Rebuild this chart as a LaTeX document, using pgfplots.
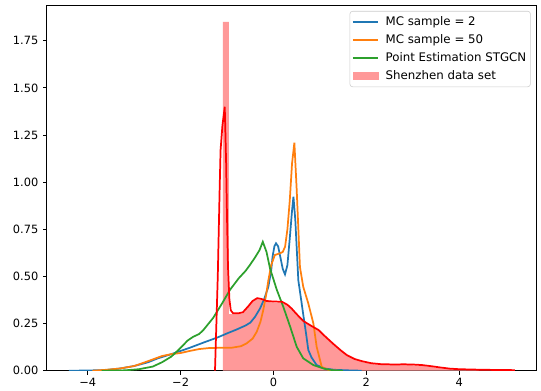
\documentclass[border=0pt]{standalone}
\usepackage{pgfplots}
\pgfplotsset{compat=1.18}
\usepackage{fontspec}
\setmainfont{DejaVu Sans}
\definecolor{mplblue}{HTML}{1F77B4}
\definecolor{mplorange}{HTML}{FF7F0E}
\definecolor{mplgreen}{HTML}{2CA02C}
\definecolor{mplred}{HTML}{FF0000}
\definecolor{mplpink}{HTML}{FF9999}
\begin{document}
\begin{tikzpicture}
\useasboundingbox (-33.8pt,-14.6pt) rectangle (355.7pt,266.9pt);
\begin{axis}[
  at={(0,0)}, anchor=south west,
  scale only axis, width=352.6pt, height=263.3pt,
  xmin=-4.88, xmax=5.67, ymin=0, ymax=1.94,
  axis line style={line width=0.65pt, black},
  tick align=outside, major tick length=2.8pt,
  tick style={line width=0.65pt, black},
  xtick={-4,-2,0,2,4}, xticklabels={−4,−2,0,2,4},
  ytick={0,0.25,0.5,0.75,1,1.25,1.5,1.75},
  yticklabels={0.00,0.25,0.50,0.75,1.00,1.25,1.50,1.75},
  ticklabel style={font=\fontsize{8.2}{9.8}\selectfont},
  xticklabel style={inner sep=0pt, yshift=-2.6pt},
  yticklabel style={inner sep=0pt, xshift=-3.2pt},
  xtick pos=bottom, ytick pos=left,
  legend style={at={(0.9878,0.9837)}, anchor=north east,
    draw=black!20, rounded corners=2pt, fill=white,
    inner xsep=1.5pt, inner ysep=2.3pt,
    font=\fontsize{8.5}{10.2}\selectfont, row sep=1.8pt, column sep=3.5pt,
    nodes={inner sep=1.5pt, text height=6.3pt, text depth=1.8pt}},
  legend cell align=left,
  legend image code/.code={\draw[#1, line width=1.25pt] (0pt,0pt) -- (18pt,0pt);},
]
% histogram (Shenzhen data set)
\addplot[fill=mplpink, draw=none, forget plot] coordinates {
(-1.09,0) (-1.09,1.85) (-0.96,1.85) (-0.96,0.30) (-0.87,0.30) (-0.75,0.30) (-0.66,0.305)
(-0.55,0.335) (-0.45,0.365) (-0.35,0.38) (-0.25,0.375) (-0.15,0.365) (0,0.362) (0.18,0.36)
(0.3,0.345) (0.39,0.325) (0.5,0.295) (0.64,0.26) (0.8,0.236) (0.97,0.212) (1.1,0.181)
(1.29,0.138) (1.45,0.104) (1.58,0.079) (1.75,0.058) (1.9,0.047) (2.1,0.036) (2.3,0.031)
(2.6,0.029) (2.8,0.03) (3.0,0.029) (3.2,0.026) (3.4,0.02) (3.6,0.013) (3.8,0.008)
(4.0,0.005) (4.5,0.002) (5.0,0) } \closedcycle;
\addplot[mplblue, line width=1.25pt] coordinates {
(-4.41,0) (-4.0,0.001) (-3.6,0.004) (-3.3,0.012) (-3.0,0.025) (-2.7,0.045) (-2.5,0.065)
(-2.2,0.088) (-2.0,0.105) (-1.8,0.122) (-1.5,0.15) (-1.2,0.177) (-1.0,0.198) (-0.8,0.218)
(-0.6,0.24) (-0.5,0.255) (-0.4,0.285) (-0.29,0.33) (-0.2,0.38) (-0.11,0.446) (-0.05,0.53)
(-0.02,0.605) (0.02,0.66) (0.054,0.676) (0.1,0.66) (0.15,0.6) (0.2,0.54) (0.248,0.511)
(0.3,0.56) (0.35,0.7) (0.4,0.85) (0.43,0.923) (0.47,0.8) (0.535,0.48) (0.6,0.37)
(0.64,0.30) (0.7,0.2) (0.75,0.11) (0.82,0.07) (0.93,0.03) (1.1,0.012) (1.3,0.005)
(1.6,0.002) (1.9,0.0) };
\addlegendentry{MC sample = 2}
\addplot[mplorange, line width=1.25pt] coordinates {
(-3.9,0) (-3.6,0.005) (-3.3,0.012) (-3.0,0.025) (-2.8,0.042) (-2.6,0.06) (-2.4,0.078)
(-2.2,0.088) (-2.0,0.094) (-1.8,0.105) (-1.6,0.115) (-1.4,0.12) (-1.15,0.122) (-0.9,0.122)
(-0.7,0.13) (-0.58,0.145) (-0.45,0.17) (-0.36,0.207) (-0.28,0.26) (-0.22,0.322) (-0.16,0.4)
(-0.11,0.48) (-0.05,0.56) (0.03,0.614) (0.14,0.623) (0.2,0.63) (0.25,0.658) (0.3,0.75)
(0.35,0.9) (0.4,1.1) (0.45,1.21) (0.5,0.96) (0.57,0.55) (0.64,0.446) (0.75,0.357)
(0.86,0.25) (0.93,0.127) (1.04,0.02) (1.2,0.003) (1.4,0) };
\addlegendentry{MC sample = 50}
\addplot[mplgreen, line width=1.25pt] coordinates {
(-3.7,0) (-3.2,0.002) (-2.9,0.008) (-2.6,0.022) (-2.4,0.045) (-2.2,0.075) (-2.01,0.119)
(-1.85,0.16) (-1.73,0.18) (-1.6,0.195) (-1.51,0.216) (-1.3,0.28) (-1.1,0.36) (-0.94,0.428)
(-0.75,0.49) (-0.6,0.53) (-0.51,0.56) (-0.4,0.6) (-0.3,0.64) (-0.23,0.684) (-0.15,0.63)
(-0.075,0.543) (0.07,0.43) (0.21,0.34) (0.36,0.233) (0.5,0.127) (0.64,0.066) (0.86,0.03)
(1.1,0.01) (1.3,0.002) (1.5,0) };
\addlegendentry{Point Estimation STGCN}
\addlegendimage{legend image code/.code={\fill[mplpink, sharp corners] (0pt,-2.65pt) rectangle (18pt,2.65pt);}}
\addlegendentry{Shenzhen data set}
% KDE of the data set
\addplot[mplred, line width=1.25pt, forget plot] coordinates {
(-1.26,0.0) (-1.2,0.5) (-1.16,0.96) (-1.14,1.17) (-1.1,1.3) (-1.05,1.40) (-1.02,1.1)
(-1.0,0.8) (-0.98,0.55) (-0.95,0.38) (-0.92,0.32) (-0.87,0.305) (-0.75,0.305) (-0.66,0.31)
(-0.55,0.34) (-0.45,0.37) (-0.35,0.385) (-0.25,0.38) (-0.15,0.37) (0,0.367) (0.18,0.366)
(0.3,0.35) (0.39,0.33) (0.5,0.30) (0.64,0.264) (0.8,0.24) (0.97,0.216) (1.1,0.185)
(1.29,0.142) (1.45,0.108) (1.58,0.083) (1.75,0.062) (1.9,0.051) (2.1,0.04) (2.3,0.035)
(2.6,0.033) (2.8,0.034) (3.0,0.033) (3.2,0.03) (3.4,0.024) (3.6,0.017) (3.8,0.011)
(4.0,0.008) (4.5,0.005) (5.2,0.003) };
\end{axis}
\end{tikzpicture}
\end{document}
